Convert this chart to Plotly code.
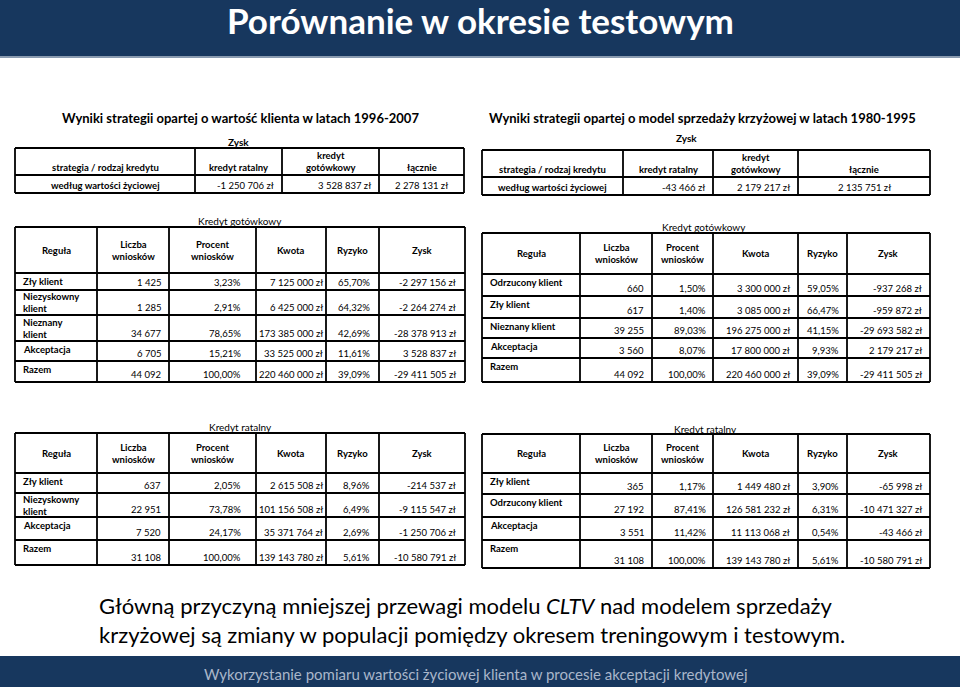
import plotly.graph_objects as go

FONT = "Lato"
NAVY = "#17375e"
TS = 9.5  # table font size

# ---- data ----
slide_title = "Porównanie w okresie testowym"
footer_text = "Wykorzystanie pomiaru wartości życiowej klienta w procesie akceptacji kredytowej"
conclusion = ["Główną przyczyną mniejszej przewagi modelu <i>CLTV</i> nad modelem sprzedaży",
              "krzyżowej są zmiany w populacji pomiędzy okresem treningowym i testowym."]

clv_title = "Wyniki strategii opartej o wartość klienta w latach 1996-2007"
cross_title = "Wyniki strategii opartej o model sprzedaży krzyżowej w latach 1980-1995"
summary_header = ["strategia / rodzaj kredytu", "kredyt ratalny", "kredyt<br>gotówkowy", "łącznie"]
summary_row = "według wartości życiowej"
clv_summary = [-1250706, 3528837, 2278131]
cross_summary = [-43466, 2179217, 2135751]

detail_header = ["Reguła", "Liczba<br>wniosków", "Procent<br>wniosków", "Kwota", "Ryzyko", "Zysk"]

# CLTV - kredyt gotówkowy
clv_got_rules = ["Zły klient", "Niezyskowny<br>klient", "Nieznany<br>klient", "Akceptacja", "Razem"]
clv_got_count = [1425, 1285, 34677, 6705, 44092]
clv_got_pct = [3.23, 2.91, 78.65, 15.21, 100.00]
clv_got_amount = [7125000, 6425000, 173385000, 33525000, 220460000]
clv_got_risk = [65.70, 64.32, 42.69, 11.61, 39.09]
clv_got_profit = [-2297156, -2264274, -28378913, 3528837, -29411505]

# cross-sell - kredyt gotówkowy
cross_got_rules = ["Odrzucony klient", "Zły klient", "Nieznany klient", "Akceptacja", "Razem"]
cross_got_count = [660, 617, 39255, 3560, 44092]
cross_got_pct = [1.50, 1.40, 89.03, 8.07, 100.00]
cross_got_amount = [3300000, 3085000, 196275000, 17800000, 220460000]
cross_got_risk = [59.05, 66.47, 41.15, 9.93, 39.09]
cross_got_profit = [-937268, -959872, -29693582, 2179217, -29411505]

# CLTV - kredyt ratalny
clv_rat_rules = ["Zły klient", "Niezyskowny<br>klient", "Akceptacja", "Razem"]
clv_rat_count = [637, 22951, 7520, 31108]
clv_rat_pct = [2.05, 73.78, 24.17, 100.00]
clv_rat_amount = [2615508, 101156508, 35371764, 139143780]
clv_rat_risk = [8.96, 6.49, 2.69, 5.61]
clv_rat_profit = [-214537, -9115547, -1250706, -10580791]

# cross-sell - kredyt ratalny
cross_rat_rules = ["Zły klient", "Odrzucony klient", "Akceptacja", "Razem"]
cross_rat_count = [365, 27192, 3551, 31108]
cross_rat_pct = [1.17, 87.41, 11.42, 100.00]
cross_rat_amount = [1449480, 126581232, 11113068, 139143780]
cross_rat_risk = [3.90, 6.31, 0.54, 5.61]
cross_rat_profit = [-65998, -10471327, -43466, -10580791]


def fmt_int(n):
    s = f"{abs(n):,}".replace(",", " ")
    return ("-" if n < 0 else "") + s


def fmt_zl(n):
    return fmt_int(n) + " zł"


def fmt_pct(v):
    return f"{v:.2f}".replace(".", ",") + "%"


shapes = []
annotations = []


def text(x, y, s, size=TS, bold=False, color="black", xanchor="center", yanchor="middle", align="center"):
    if bold:
        s = "<b>" + s.replace("<br>", "</b><br><b>") + "</b>"
    annotations.append(dict(x=x, y=y, xref="x", yref="y", text=s, showarrow=False,
                            xanchor=xanchor, yanchor=yanchor, align=align, borderpad=0,
                            font=dict(family=FONT, size=size, color=color)))


def grid(xs, ys, w=1.8):
    for x in xs:
        shapes.append(dict(type="line", xref="x", yref="y", x0=x, x1=x, y0=ys[0], y1=ys[-1],
                           line=dict(color="black", width=w)))
    for y in ys:
        shapes.append(dict(type="line", xref="x", yref="y", x0=xs[0], x1=xs[-1], y0=y, y1=y,
                           line=dict(color="black", width=w)))


def summary_table(xs, ys, values):
    grid(xs, ys)
    for i, h in enumerate(summary_header):
        text((xs[i] + xs[i + 1]) / 2, ys[1] - 1, h, bold=True, yanchor="bottom")
    text((xs[0] + xs[1]) / 2, ys[2] - 1, summary_row, bold=True, yanchor="bottom")
    for j, v in enumerate(values):
        c = j + 1
        if c < 3:
            text(xs[c + 1] - 7, ys[2] - 1, fmt_zl(v), xanchor="right", yanchor="bottom")
        else:
            text((xs[c] + xs[c + 1]) / 2, ys[2] - 1, fmt_zl(v), yanchor="bottom")


def detail_table(xs, ys, rules, count, pct, amount, risk, profit, pads):
    grid(xs, ys)
    for i, h in enumerate(detail_header):
        text((xs[i] + xs[i + 1]) / 2, (ys[0] + ys[1]) / 2, h, bold=True)
    for r, rule in enumerate(rules):
        top, bot = ys[r + 1], ys[r + 2]
        if "<br>" in rule:
            text(xs[0] + 7, (top + bot) / 2, rule, bold=True, xanchor="left", align="left")
        else:
            text(xs[0] + 7, top + 2, rule, bold=True, xanchor="left", yanchor="top", align="left")
        cells = [fmt_int(count[r]), fmt_pct(pct[r]), fmt_zl(amount[r]),
                 fmt_pct(risk[r]), fmt_zl(profit[r])]
        for c, s in enumerate(cells):
            text(xs[c + 2] - pads[c], bot - 1, s, xanchor="right", yanchor="bottom")


# header / footer bars
shapes.append(dict(type="rect", xref="x", yref="y", x0=0, x1=960, y0=0, y1=56,
                   fillcolor=NAVY, line_width=0, layer="below"))
shapes.append(dict(type="rect", xref="x", yref="y", x0=0, x1=960, y0=56, y1=58,
                   fillcolor="#8a9bb0", line_width=0, layer="below"))
shapes.append(dict(type="rect", xref="x", yref="y", x0=0, x1=960, y0=656, y1=687,
                   fillcolor=NAVY, line_width=0, layer="below"))
text(480, 20, slide_title, size=35, bold=True, color="white")
text(476, 674, footer_text, size=15, color="#a9b6ca")

# section titles
text(240, 118, clv_title, size=13, bold=True)
text(702, 118, cross_title, size=13, bold=True)
text(238, 142, "Zysk", size=10, bold=True)
text(686, 138, "Zysk", size=10, bold=True)

summary_table([15, 195, 282, 379, 464], [148, 175, 193], clv_summary)
summary_table([482, 623, 713, 798, 930], [150, 177, 195], cross_summary)

xl = [15, 97, 169, 256, 326, 379, 465]
xr = [482, 580, 652, 713, 798, 847, 930]
pad_l = [7, 14, 2, 8, 8]
pad_r = [7, 6, 7, 7, 7]

text(240, 221, "Kredyt gotówkowy", size=10)
detail_table(xl, [227, 273, 290, 315, 341, 361, 382], clv_got_rules, clv_got_count,
             clv_got_pct, clv_got_amount, clv_got_risk, clv_got_profit, pad_l)
text(704, 227, "Kredyt gotówkowy", size=10)
detail_table(xr, [233, 274, 296, 318, 338, 358, 382], cross_got_rules, cross_got_count,
             cross_got_pct, cross_got_amount, cross_got_risk, cross_got_profit, pad_r)
text(240, 427, "Kredyt ratalny", size=10)
detail_table(xl, [433, 473, 493, 517, 540, 565], clv_rat_rules, clv_rat_count,
             clv_rat_pct, clv_rat_amount, clv_rat_risk, clv_rat_profit, pad_l)
text(705, 429, "Kredyt ratalny", size=10)
detail_table(xr, [434, 473, 494, 517, 540, 568], cross_rat_rules, cross_rat_count,
             cross_rat_pct, cross_rat_amount, cross_rat_risk, cross_rat_profit, pad_r)

# conclusion text
text(98, 605, conclusion[0], size=22, xanchor="left")
text(98, 634, conclusion[1], size=22, xanchor="left")

fig = go.Figure(layout=go.Layout(
    width=960, height=687,
    margin=dict(l=0, r=0, t=0, b=0),
    paper_bgcolor="white", plot_bgcolor="white",
    xaxis=dict(range=[0, 960], visible=False, fixedrange=True),
    yaxis=dict(range=[687, 0], visible=False, fixedrange=True),
    shapes=shapes, annotations=annotations, showlegend=False))

fig.write_html("out.html", config={"displayModeBar": False},
               post_script="document.body.style.margin='0';document.body.style.overflow='hidden';")
